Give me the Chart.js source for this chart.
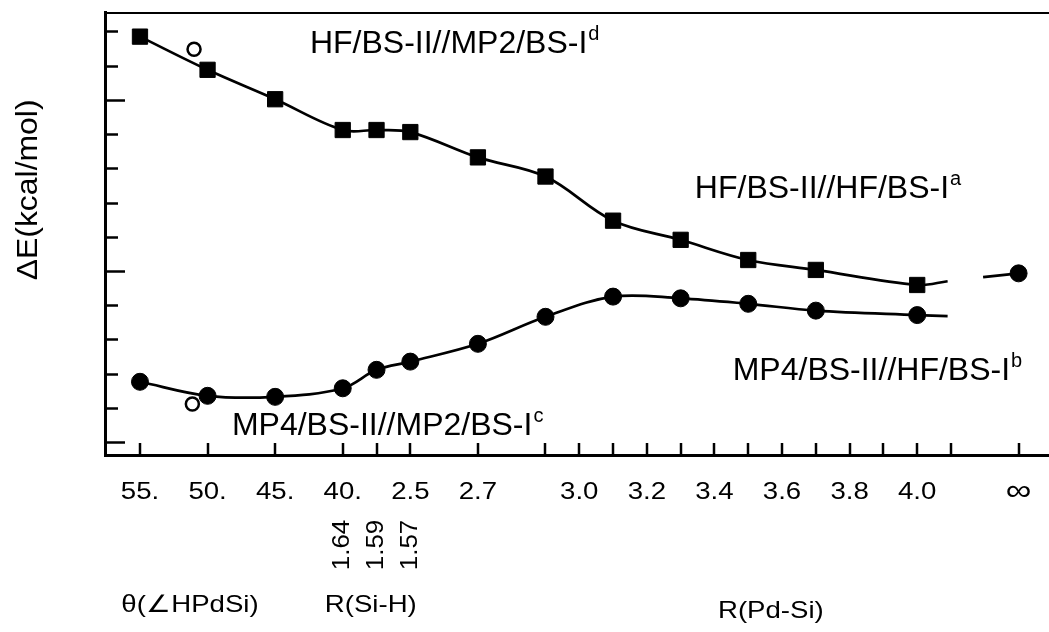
<!DOCTYPE html>
<html>
<head>
<meta charset="utf-8">
<script src="https://cdn.jsdelivr.net/npm/chart.js@4.4.1/dist/chart.umd.min.js"></script>
<style>
  html, body { margin: 0; padding: 0; background: #fff; overflow: hidden; }
  canvas { display: block; }
</style>
</head>
<body>
<canvas id="pes" width="1049" height="632"></canvas>
<script>
// Reaction path: steps 0-6 follow the HPdSi angle, 6-8 the Si-H bond,
// from step 8 on each step is 0.1 A of Pd-Si distance (step 26 = infinity)
const pathStep = [0, 2, 4, 6, 7, 8, 10, 12, 14, 16, 18, 20, 23];
const hfEnergy = [11.85, 10.88, 10.02, 9.12, 9.12, 9.06, 8.32, 7.76, 6.47, 5.91, 5.32, 5.03, 4.59];
const mp4Energy = [1.76, 1.35, 1.32, 1.57, 2.11, 2.35, 2.87, 3.66, 4.25, 4.20, 4.04, 3.84, 3.71];

// MP2/BS-I optimised geometry (open circles): HF and MP4 energies
const mp2Step = [1.6, 1.55];
const mp2Energy = [11.48, 1.11];

// separated fragments
const limitStep = [26];
const limitEnergy = [4.93];

// fitted curves stop short of the break; short stub runs into the limit
const fitEndStep = 23.9;
const hfFitEnd = 4.70;
const mp4FitEnd = 3.68;
const stubStep = [24.95, 26];
const stubEnergy = [4.82, 4.93];

const tickSteps = [0, 2, 4, 6, 7, 8, 10, 12, 13, 14, 15, 16, 17, 18, 19, 20, 21, 22, 23, 24, 26];
const tickLabelSteps = [0, 2, 4, 6, 8, 10, 13, 15, 17, 19, 21, 23, 26];
const tickLabels = ['55.', '50.', '45.', '40.', '2.5', '2.7', '3.0', '3.2', '3.4', '3.6', '3.8', '4.0', '\u221E'];
const siHSteps = [6, 7, 8];
const siHLabels = ['1.64', '1.59', '1.57'];
const energyTicks = [0, 1, 2, 3, 4, 5, 6, 7, 8, 9, 10, 11, 12];
const energyMajor = [0, 5, 10];

// method labels: text, superscript, anchor (step, energy)
const curveLabels = [
  { text: 'HF/BS-II//MP2/BS-I', sup: 'd', step: 5.03, energy: 11.37 },
  { text: 'HF/BS-II//HF/BS-I', sup: 'a', step: 16.42, energy: 7.13 },
  { text: 'MP4/BS-II//HF/BS-I', sup: 'b', step: 17.54, energy: 1.81 },
  { text: 'MP4/BS-II//MP2/BS-I', sup: 'c', step: 2.72, energy: 0.20 }
];
const coordTitles = [
  { text: '\u03B8(\u2220HPdSi)', step: 1.48, drop: 157 },
  { text: 'R(Si-H)', step: 6.83, drop: 157 },
  { text: 'R(Pd-Si)', step: 18.67, drop: 163 }
];

const FONT = '"Liberation Sans", Arial, Helvetica, sans-serif';
const pts = (xs, ys) => xs.map((x, i) => ({ x, y: ys[i] }));

function drawStretched(ctx, str, x, y, sx, align) {
  ctx.save();
  ctx.translate(x, y);
  ctx.scale(sx, 1);
  ctx.textAlign = align;
  ctx.fillText(str, 0, 0);
  ctx.restore();
}

const decor = {
  id: 'decor',
  afterDraw(chart) {
    const { ctx, chartArea: area, scales: { x, y } } = chart;
    ctx.save();
    ctx.strokeStyle = '#000';
    ctx.fillStyle = '#000';

    // top frame
    ctx.lineWidth = 2;
    ctx.beginPath();
    ctx.moveTo(area.left, area.top + 1);
    ctx.lineTo(area.right, area.top + 1);
    ctx.stroke();

    // inward ticks on the energy axis
    ctx.lineWidth = 2.5;
    energyTicks.forEach(v => {
      const py = Math.round(y.getPixelForValue(v)) + 0.5;
      const len = energyMajor.includes(v) ? 20 : 13;
      ctx.beginPath();
      ctx.moveTo(area.left, py);
      ctx.lineTo(area.left + len, py);
      ctx.stroke();
    });

    // inward ticks on the path axis
    tickSteps.forEach(s => {
      const px = Math.round(x.getPixelForValue(s));
      ctx.beginPath();
      ctx.moveTo(px, area.bottom);
      ctx.lineTo(px, area.bottom - 12);
      ctx.stroke();
    });

    // tick labels (the infinity sign is set a little larger)
    ctx.textBaseline = 'alphabetic';
    tickLabelSteps.forEach((s, i) => {
      const inf = tickLabels[i] === '\u221E';
      ctx.font = (inf ? '30px ' : '23px ') + FONT;
      drawStretched(ctx, tickLabels[i], x.getPixelForValue(s), area.bottom + (inf ? 45 : 44), 1.2, 'center');
    });

    // Si-H distances, rotated
    ctx.font = '24px ' + FONT;
    siHSteps.forEach((s, i) => {
      ctx.save();
      ctx.translate(x.getPixelForValue(s), area.bottom + 90);
      ctx.rotate(-Math.PI / 2);
      ctx.scale(1.08, 1);
      ctx.textAlign = 'center';
      ctx.textBaseline = 'middle';
      ctx.fillText(siHLabels[i], 0, 0);
      ctx.restore();
    });

    // coordinate names
    ctx.font = '24px ' + FONT;
    coordTitles.forEach(t => {
      drawStretched(ctx, t.text, x.getPixelForValue(t.step), area.bottom + t.drop, 1.15, 'center');
    });

    // energy axis title
    ctx.save();
    ctx.translate(29, y.getPixelForValue(7.37));
    ctx.rotate(-Math.PI / 2);
    ctx.scale(1.1, 1);
    ctx.font = '29px ' + FONT;
    ctx.textAlign = 'center';
    ctx.textBaseline = 'middle';
    ctx.fillText('\u0394E(kcal/mol)', 0, 0);
    ctx.restore();

    // method labels with superscript footnote marks
    curveLabels.forEach(l => {
      const px = x.getPixelForValue(l.step);
      const py = y.getPixelForValue(l.energy);
      ctx.font = '32px ' + FONT;
      ctx.textAlign = 'left';
      ctx.fillText(l.text, px, py);
      const w = ctx.measureText(l.text).width;
      ctx.font = '20px ' + FONT;
      ctx.fillText(l.sup, px + w + 1, py - 13);
    });

    ctx.restore();
  }
};

const markerBase = { showLine: false, borderColor: '#000', backgroundColor: '#000', borderWidth: 1 };
const curveBase = {
  showLine: true, pointRadius: 0, borderColor: '#000', borderWidth: 2.7,
  tension: 0.35, fill: false
};

new Chart(document.getElementById('pes'), {
  type: 'scatter',
  data: {
    datasets: [
      { ...markerBase, label: 'HF squares', data: pts(pathStep, hfEnergy), pointStyle: 'rect', pointRadius: 10.8 },
      { ...markerBase, label: 'MP4 circles', data: pts(pathStep, mp4Energy), pointStyle: 'circle', pointRadius: 8.5 },
      { ...markerBase, label: 'limit', data: pts(limitStep, limitEnergy), pointStyle: 'circle', pointRadius: 8.5 },
      {
        ...markerBase, label: 'MP2 geometry', data: pts(mp2Step, mp2Energy), pointStyle: 'circle',
        pointRadius: 6.5, borderWidth: 2.5, backgroundColor: '#fff'
      },
      { ...curveBase, label: 'HF fit', data: pts(pathStep, hfEnergy).concat({ x: fitEndStep, y: hfFitEnd }) },
      { ...curveBase, label: 'MP4 fit', data: pts(pathStep, mp4Energy).concat({ x: fitEndStep, y: mp4FitEnd }) },
      { ...curveBase, label: 'stub', data: pts(stubStep, stubEnergy), tension: 0 }
    ]
  },
  options: {
    responsive: false,
    animation: false,
    layout: { autoPadding: false, padding: { top: 12, right: 0, bottom: 0, left: 0 } },
    plugins: { legend: { display: false }, tooltip: { enabled: false } },
    scales: {
      x: {
        type: 'linear', min: -1.035, max: 26.9, position: 'bottom',
        grid: { display: false },
        border: { display: true, color: '#000', width: 3 },
        ticks: { display: false },
        afterFit: s => { s.height = 177; }
      },
      y: {
        type: 'linear', min: -0.38, max: 12.57, position: 'left',
        grid: { display: false },
        border: { display: true, color: '#000', width: 3 },
        ticks: { display: false },
        afterFit: s => { s.width = 105; }
      }
    }
  },
  plugins: [decor]
});
</script>
</body>
</html>
